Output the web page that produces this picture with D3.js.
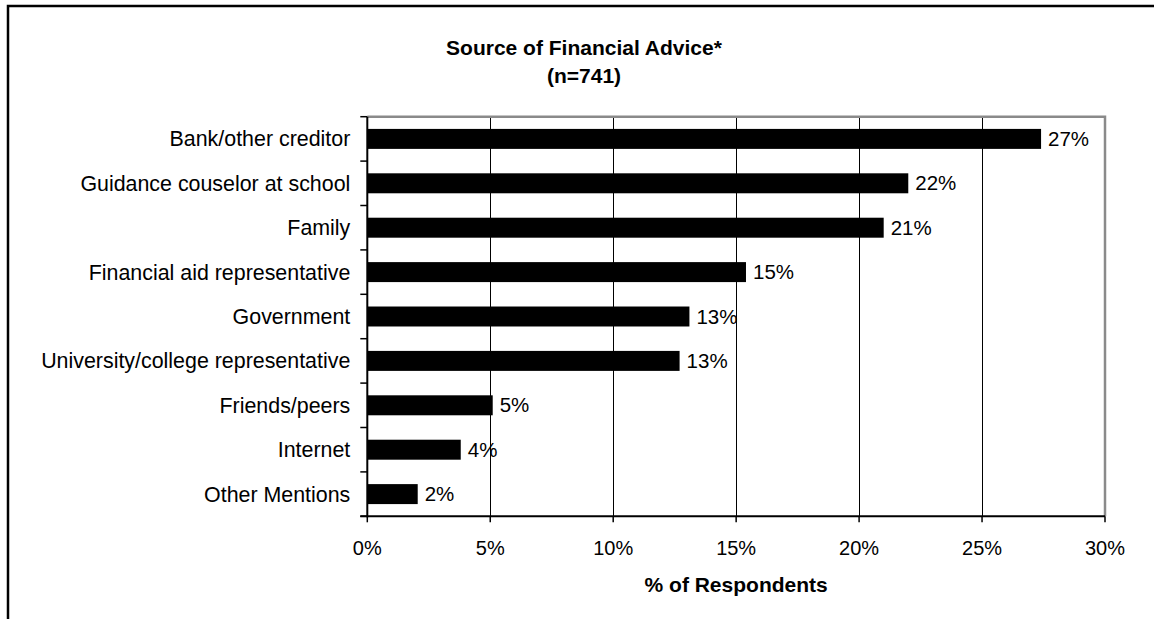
<!DOCTYPE html>
<html>
<head>
<meta charset="utf-8">
<script src="https://cdn.jsdelivr.net/npm/d3@7"></script>
<style>
  html, body { margin: 0; padding: 0; background: #fff; }
  svg { display: block; }
  text { font-family: "Liberation Sans", Arial, sans-serif; fill: #000; }
</style>
</head>
<body>
<svg id="chart" width="1154" height="619"></svg>
<script>
// Sources of financial advice, share of respondents (%)
const categories = [
  "Bank/other creditor",
  "Guidance couselor at school",
  "Family",
  "Financial aid representative",
  "Government",
  "University/college representative",
  "Friends/peers",
  "Internet",
  "Other Mentions"
];
const values = [27.4, 22.0, 21.0, 15.4, 13.1, 12.7, 5.1, 3.8, 2.05];
const xTicks = [0, 5, 10, 15, 20, 25, 30];
const titleLines = ["Source of Financial Advice*", "(n=741)"];
const xAxisTitle = "% of Respondents";

const svg = d3.select("#chart");

// Outer chart frame (runs past the right and bottom edges)
svg.append("rect")
  .attr("x", 8).attr("y", 6)
  .attr("width", 1153).attr("height", 700)
  .attr("fill", "none").attr("stroke", "#000").attr("stroke-width", 2.5);

const plot = { left: 367.3, right: 1105, top: 116.7, bottom: 516.3 };

const x = d3.scaleLinear().domain([0, 30]).range([plot.left, plot.right]);
const y = d3.scaleBand().domain(categories)
  .range([plot.top, plot.bottom])
  .paddingInner(0.55).paddingOuter(0.275);

const g = svg.append("g");

// Vertical gridlines
g.append("g")
  .selectAll("line")
  .data(xTicks.filter(t => t > 0 && t < 30))
  .join("line")
  .attr("x1", d => Math.round(x(d)) + 0.5).attr("x2", d => Math.round(x(d)) + 0.5)
  .attr("y1", plot.top).attr("y2", plot.bottom)
  .attr("stroke", "#000").attr("stroke-width", 1);

// Plot border: grey on top and right
g.append("path")
  .attr("d", `M${plot.left},${plot.top}H${plot.right}V${plot.bottom}`)
  .attr("fill", "none").attr("stroke", "#8a8a8a").attr("stroke-width", 2.5);

// Bars
g.append("g")
  .selectAll("rect")
  .data(categories)
  .join("rect")
  .attr("x", x(0))
  .attr("y", d => y(d))
  .attr("width", (d, i) => x(values[i]) - x(0))
  .attr("height", y.bandwidth())
  .attr("fill", "#000");

// Value labels
const fmt = v => Math.round(v) + "%";
g.append("g")
  .selectAll("text")
  .data(categories)
  .join("text")
  .attr("x", (d, i) => x(values[i]) + 7)
  .attr("y", d => y(d) + y.bandwidth() / 2)
  .attr("dy", "0.35em")
  .attr("font-size", 20.5)
  .text((d, i) => fmt(values[i]));

// Y axis (category labels, ticks between categories)
const yAxisG = g.append("g");
yAxisG.append("line")
  .attr("x1", plot.left).attr("x2", plot.left)
  .attr("y1", plot.top).attr("y2", plot.bottom + 1)
  .attr("stroke", "#000").attr("stroke-width", 2);
const bounds = d3.range(categories.length + 1).map(i => plot.top + i * y.step());
yAxisG.selectAll("line.tk")
  .data(bounds)
  .join("line").attr("class", "tk")
  .attr("x1", plot.left - 7).attr("x2", plot.left)
  .attr("y1", d => d).attr("y2", d => d)
  .attr("stroke", "#000").attr("stroke-width", 1.5);
yAxisG.selectAll("text")
  .data(categories)
  .join("text")
  .attr("x", plot.left - 17)
  .attr("y", d => y(d) + y.bandwidth() / 2)
  .attr("dy", "0.35em")
  .attr("text-anchor", "end")
  .attr("font-size", 21.4)
  .text(d => d);

// X axis
const xAxisG = g.append("g");
xAxisG.append("line")
  .attr("x1", plot.left - 7).attr("x2", plot.right)
  .attr("y1", plot.bottom).attr("y2", plot.bottom)
  .attr("stroke", "#000").attr("stroke-width", 2);
xAxisG.selectAll("line.tk")
  .data(xTicks)
  .join("line").attr("class", "tk")
  .attr("x1", d => x(d)).attr("x2", d => x(d))
  .attr("y1", plot.bottom).attr("y2", plot.bottom + 6)
  .attr("stroke", "#000").attr("stroke-width", 1.5);
xAxisG.selectAll("text")
  .data(xTicks)
  .join("text")
  .attr("x", d => x(d))
  .attr("y", 554.5)
  .attr("text-anchor", "middle")
  .attr("font-size", 20)
  .text(d => d + "%");

// Axis title
svg.append("text")
  .attr("x", (plot.left + plot.right) / 2)
  .attr("y", 591.5)
  .attr("text-anchor", "middle")
  .attr("font-size", 21)
  .attr("font-weight", "bold")
  .text(xAxisTitle);

// Chart title
svg.append("g").selectAll("text")
  .data(titleLines)
  .join("text")
  .attr("x", 584)
  .attr("y", (d, i) => 55 + i * 27.8)
  .attr("text-anchor", "middle")
  .attr("font-size", 21)
  .attr("font-weight", "bold")
  .text(d => d);
</script>
</body>
</html>
